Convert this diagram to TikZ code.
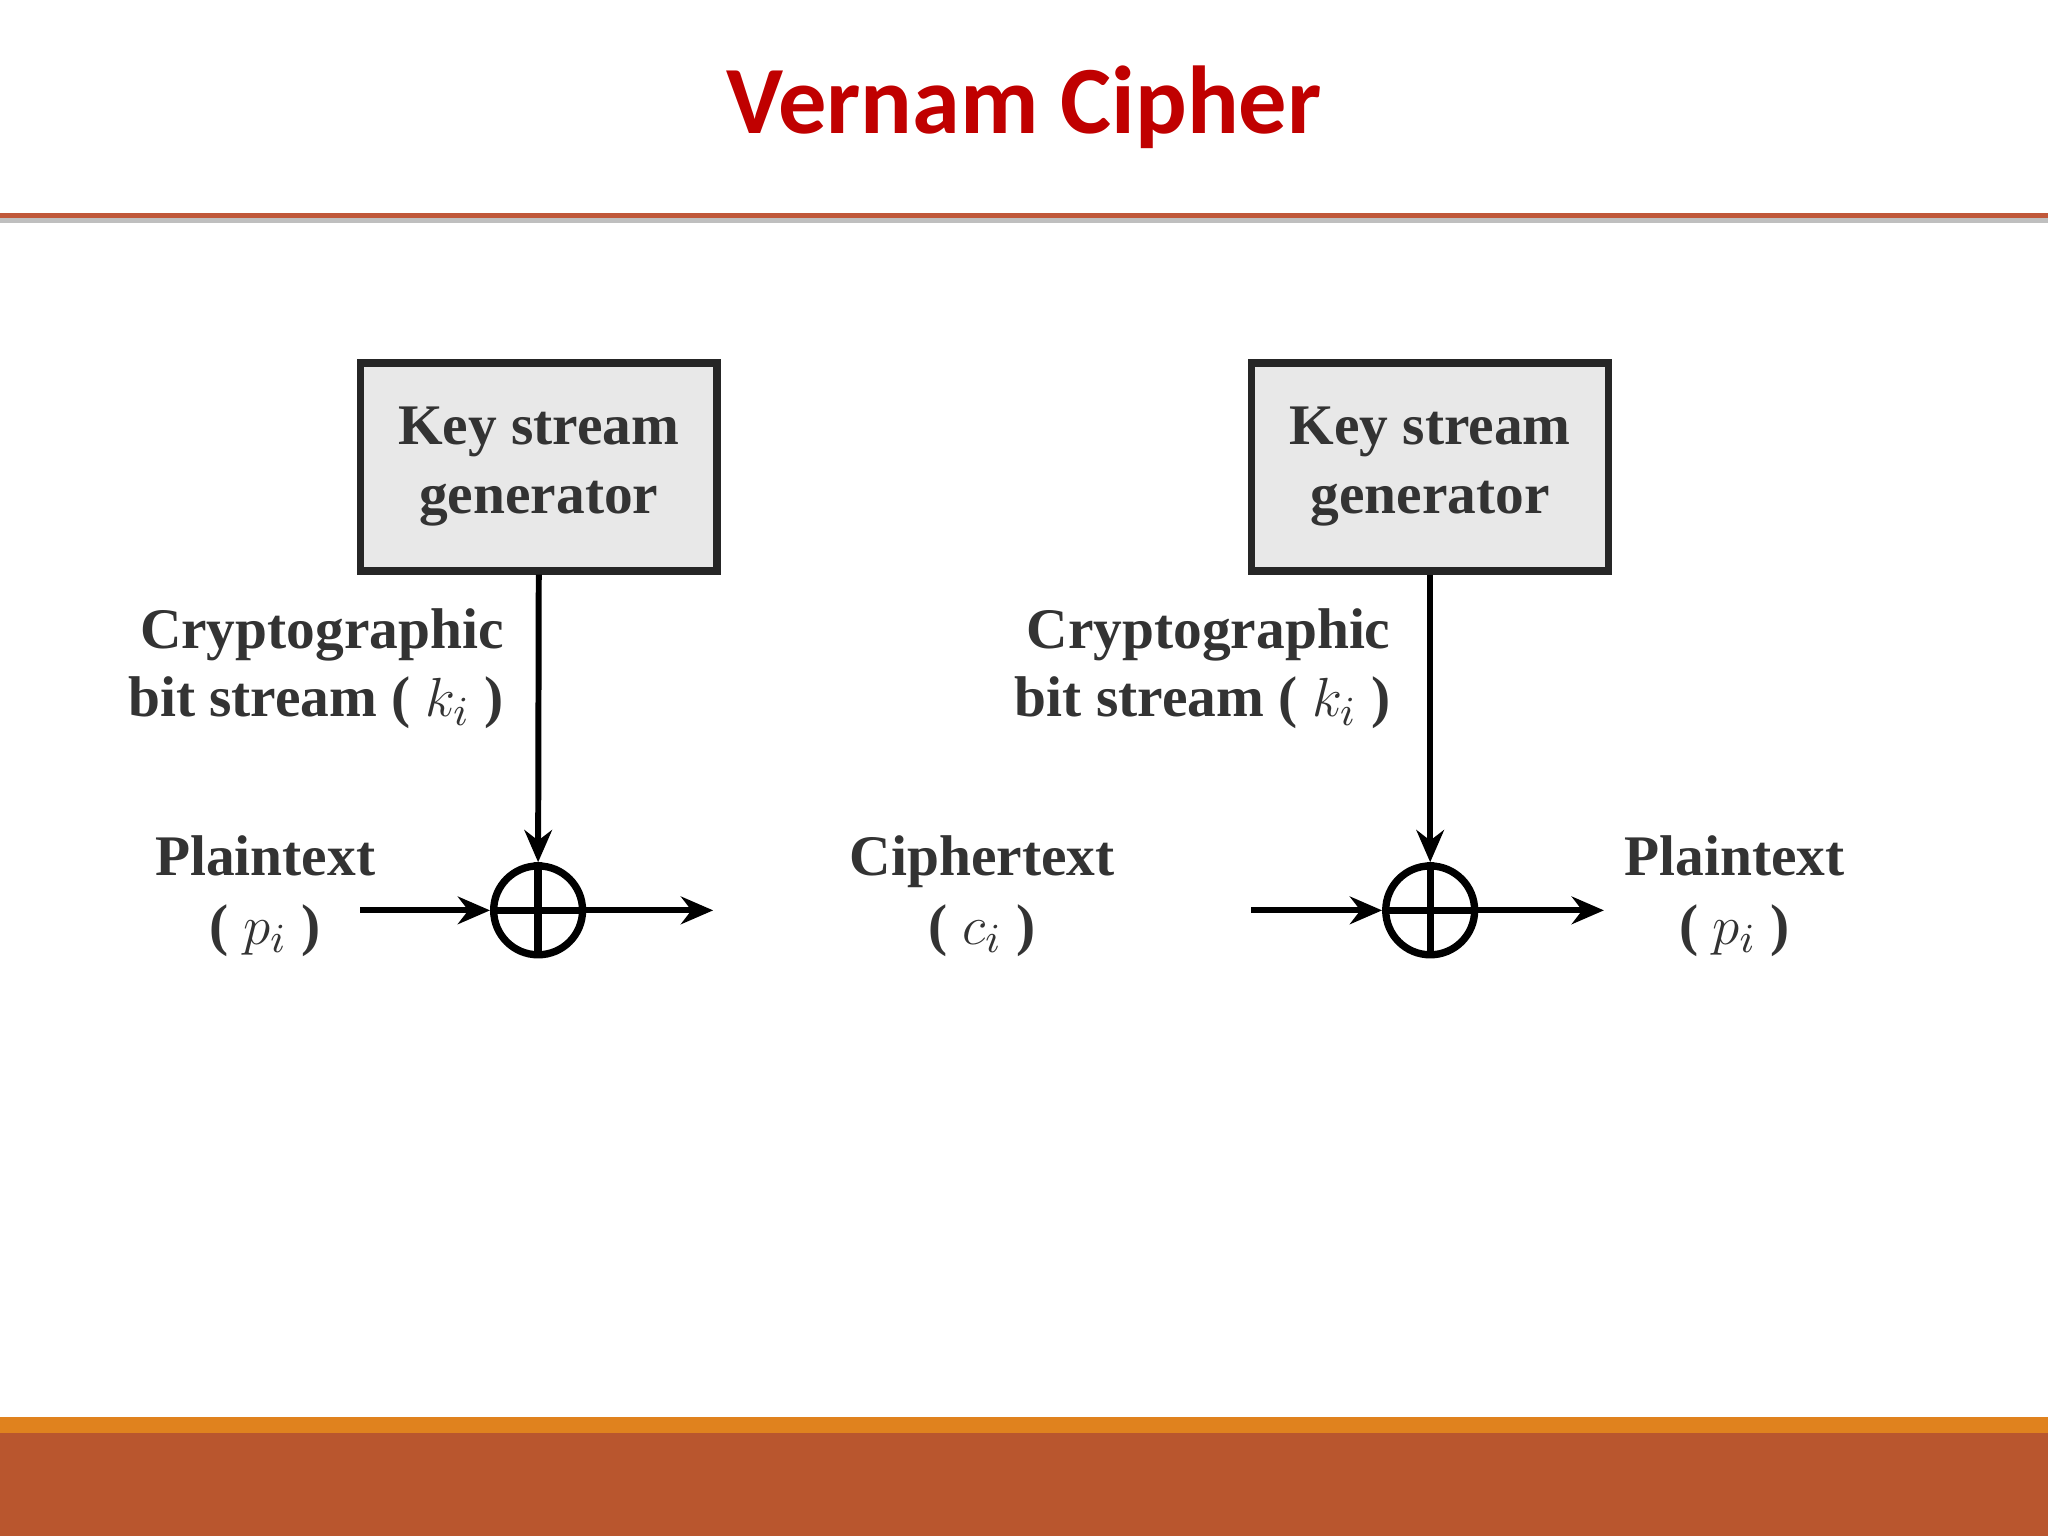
\documentclass[tikz,border=0pt]{standalone}
\usepackage{fontspec}
\setmainfont{Liberation Serif}
\newfontfamily\titlefont{Carlito}
\usetikzlibrary{arrows.meta}
\definecolor{titlered}{HTML}{C00000}
\definecolor{rust}{HTML}{B9562E}
\definecolor{orangeline}{HTML}{E0821E}
\definecolor{topline}{HTML}{C0583A}
\begin{document}
\begin{tikzpicture}[x=0.01cm,y=-0.01cm,
  genbox/.style={draw=black!85,line width=1.6pt,fill=black!9,minimum width=2.73cm,minimum height=1.59cm,align=center,font=\fontsize{12.5}{15}\selectfont\bfseries,text=black!80},
  xorc/.style={circle,draw=black,line width=1.6pt,minimum size=0.68cm,inner sep=0pt},
  lbl/.style={font=\fontsize{12.5}{15}\selectfont\bfseries,text=black!80,align=center},
  arr/.style={line width=1.3pt,-{Stealth[length=7pt,width=6pt]}}]
\useasboundingbox (0,0) rectangle (1568,1176);
\fill[white] (0,0) rectangle (1568,1176);
\node[font=\titlefont\fontsize{21}{25}\selectfont\bfseries,text=titlered] (title) at (784,82) {Vernam Cipher};
\fill[black!25] (0,167) rectangle (1568,171);
\fill[topline] (0,163) rectangle (1568,167);
\fill[orangeline] (0,1085) rectangle (1568,1097);
\fill[rust] (0,1097) rectangle (1568,1176);
% left
\node[genbox] (g1) at (412.5,357.5) {Key stream\\generator};
\node[xorc] (x1) at (412,697) {};
\draw[line width=1.6pt] (x1.north)--(x1.south) (x1.west)--(x1.east);
\draw[arr] (g1.south) -- (x1.north);
\node[lbl,align=right,anchor=east] (k1) at (398,512) {Cryptographic\\bit stream ( $k_i$ )};
\node[lbl] (p1) at (203,686) {Plaintext\\( $p_i$ )};
\coordinate (a1) at (276,697);
\coordinate (b1) at (546,697);
\draw[arr] (a1) -- (x1.west);
\draw[arr] (x1.east) -- (b1);
\node[lbl] (c) at (752,686) {Ciphertext\\( $c_i$ )};
% right
\node[genbox] (g2) at (1095,357.5) {Key stream\\generator};
\node[xorc] (x2) at (1095,697) {};
\draw[line width=1.6pt] (x2.north)--(x2.south) (x2.west)--(x2.east);
\draw[arr] (g2.south) -- (x2.north);
\node[lbl,align=right,anchor=east] (k2) at (1077,512) {Cryptographic\\bit stream ( $k_i$ )};
\coordinate (a2) at (958,697);
\coordinate (b2) at (1228,697);
\draw[arr] (a2) -- (x2.west);
\draw[arr] (x2.east) -- (b2);
\node[lbl] (p2) at (1328,686) {Plaintext\\( $p_i$ )};
\end{tikzpicture}
\end{document}
